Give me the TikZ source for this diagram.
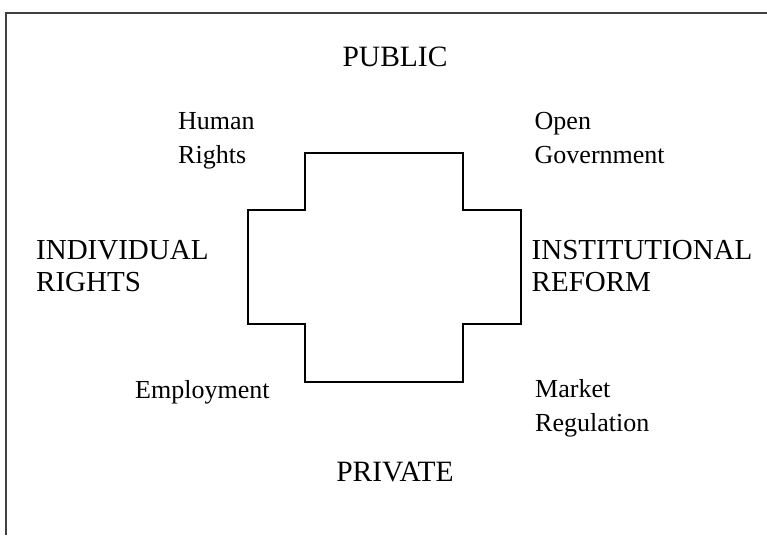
\documentclass[tikz,border=0pt]{standalone}
\usepackage{fontspec}
\setmainfont{Liberation Serif}
\begin{document}
\begin{tikzpicture}[x=1pt,y=-1pt,
    word_axis/.style ={anchor=base, inner sep=0pt,
      font=\fontsize{29.5}{32}\selectfont},
    word_big/.style ={anchor=base west, inner sep=0pt, align=left,
      font=\fontsize{29}{31.5}\selectfont},
    word_small/.style ={anchor=base west, inner sep=0pt, align=left,
      font=\fontsize{26}{34}\selectfont},
    frame_line/.style ={draw=black!75, line width=1.2pt},
    cross_line/.style ={draw=black, line width=1.3pt}]
    \useasboundingbox (0,0) rectangle (767,535);
    % frame (top and left edge only)
    \draw[frame_line] (5,13) -- (767,13);
    \draw[frame_line] (6,13) -- (6,535);
    % the cross in the middle
    \draw[cross_line] (305,153) -- (463,153) -- (463,210) -- (521,210)
      -- (521,324) -- (463,324) -- (463,382) -- (305,382) -- (305,324)
      -- (248,324) -- (248,210) -- (305,210) -- cycle;
    % axis words (base = last line)
    \node [word_axis] (public) at (395,66.5) {PUBLIC};
    \node [word_axis] (private) at (395,481.5) {PRIVATE};
    \node [word_big] (individual) at (36,291) {INDIVIDUAL\\RIGHTS};
    \node [word_big] (institutional) at (531.5,291) {INSTITUTIONAL\\REFORM};
    % corner words
    \node [word_small] (human) at (178,163) {Human\\Rights};
    \node [word_small] (open) at (534.5,163) {Open\\Government};
    \node [word_small] (employment) at (135,398.5) {Employment};
    \node [word_small] (market) at (535,431.5) {Market\\Regulation};
\end{tikzpicture}
\end{document}
